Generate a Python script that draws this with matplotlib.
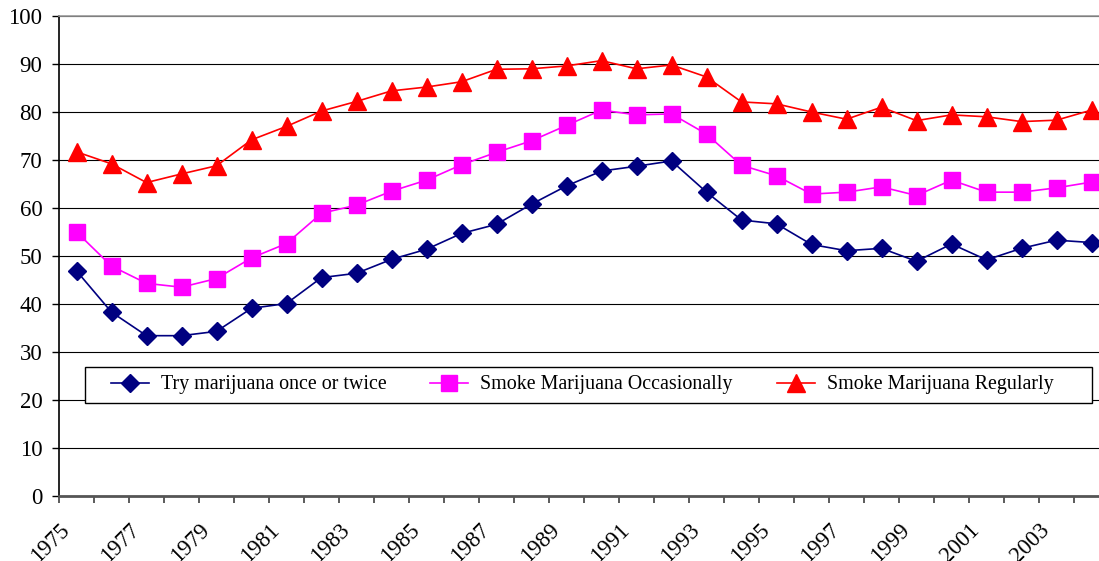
import numpy as np
import matplotlib
matplotlib.use("Agg")
import matplotlib.pyplot as plt
from matplotlib.patches import Rectangle
from matplotlib.transforms import ScaledTranslation

plt.rcParams['font.family'] = ['Liberation Serif', 'DejaVu Serif']

# --- Survey data: perceived great risk (%) by year ---
years = list(range(1975, 2005))

try_once_twice = [46.9, 38.3, 33.4, 33.4, 34.3, 39.1, 40.1, 45.5, 46.4, 49.3,
                  51.4, 54.7, 56.6, 60.8, 64.6, 67.7, 68.7, 69.8, 63.3, 57.5,
                  56.7, 52.4, 51.1, 51.6, 48.9, 52.5, 49.2, 51.6, 53.3, 52.8]

smoke_occasionally = [55.0, 47.9, 44.3, 43.5, 45.3, 49.6, 52.6, 58.9, 60.6, 63.5,
                      65.8, 69.0, 71.6, 74.0, 77.2, 80.4, 79.4, 79.6, 75.4, 68.9,
                      66.7, 62.9, 63.3, 64.4, 62.6, 65.8, 63.3, 63.3, 64.2, 65.4]

smoke_regularly = [71.7, 69.2, 65.3, 67.1, 68.8, 74.2, 77.0, 80.2, 82.2, 84.4,
                   85.2, 86.3, 88.9, 89.0, 89.6, 90.7, 89.0, 89.8, 87.3, 82.1,
                   81.7, 80.0, 78.5, 81.0, 78.2, 79.4, 79.0, 78.0, 78.3, 80.4]

series_labels = ["Try marijuana once or twice",
                 "Smoke Marijuana Occasionally",
                 "Smoke Marijuana Regularly"]

W, H = 1099, 561
fig = plt.figure(figsize=(W / 100, H / 100), dpi=100)
ax = fig.add_axes([59 / W, 65 / H, 1050 / W, 480 / H])

x = np.arange(len(years))
ax.plot(x, try_once_twice, color='#000080', marker='D', markersize=9,
        linewidth=1.2, label=series_labels[0], zorder=3)
ax.plot(x, smoke_occasionally, color='#FF00FF', marker='s', markersize=11.5,
        linewidth=1.2, label=series_labels[1], zorder=3)
ax.plot(x, smoke_regularly, color='#FF0000', marker='^', markersize=12.5,
        linewidth=1.2, label=series_labels[2], zorder=3)

# axes limits & grid
ax.set_xlim(-0.5, len(years) - 0.5)
ax.set_ylim(0, 100)
ax.set_yticks(np.arange(0, 101, 10))
ax.yaxis.grid(True, color='black', linewidth=0.8)
ax.set_axisbelow(True)

# category boundaries carry the ticks; every other year gets a label
bounds = np.arange(len(years) + 1) - 0.5
ax.set_xticks(bounds)
tick_text = [str(y) if i % 2 == 0 else "" for i, y in enumerate(years)] + [""]
ax.set_xticklabels(tick_text, rotation=45, ha='right', rotation_mode='anchor')
for lbl in ax.get_xticklabels():
    lbl.set_transform(lbl.get_transform() + ScaledTranslation(-3 / 100, 0, fig.dpi_scale_trans))

ax.tick_params(axis='x', direction='out', length=5, width=1.2, pad=12,
               labelsize=16.5, color='#404040')
ax.tick_params(axis='y', direction='out', length=5, width=1.0, pad=7,
               labelsize=16.5)

ax.spines['right'].set_visible(False)
ax.spines['top'].set_color('#999999')
ax.spines['top'].set_linewidth(1.2)
ax.spines['left'].set_linewidth(1.2)
ax.spines['bottom'].set_color('#555555')
ax.spines['bottom'].set_linewidth(2.0)

# legend box drawn separately so its padding can be wider than the text rows
box = Rectangle((85 / W, 158 / H), 1007 / W, 36 / H, transform=fig.transFigure,
                facecolor='white', edgecolor='black', linewidth=1.0, zorder=4)
ax.add_patch(box)
box.set_clip_on(False)

leg = ax.legend(loc='center', ncol=3, bbox_to_anchor=(582 / W, 176 / H),
                bbox_transform=fig.transFigure, borderaxespad=0,
                fontsize=14.4, frameon=False, borderpad=0.2,
                handlelength=1.9, handletextpad=0.6, columnspacing=2.2)
leg.set_zorder(5)

fig.savefig("out.png", dpi=100)
